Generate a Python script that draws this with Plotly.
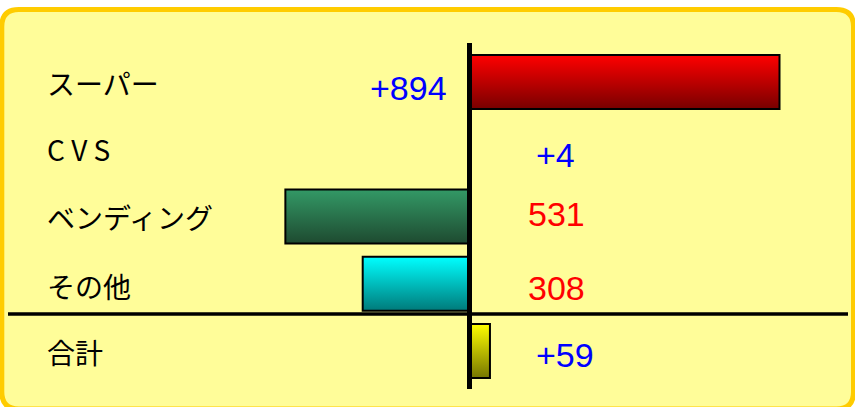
import plotly.graph_objects as go

# ---- data ----
categories = ["スーパー", "C V S", "ベンディング", "その他", "合計"]
values = [894, 4, -531, -308, 59]
unit_label = "（単位：百万円）"

# ---- styles ----
top_colors = ["#FF0000", "#0000FF", "#339966", "#00FFFF", "#FFFF00"]
bottom_colors = ["#780000", "#000078", "#1E4A30", "#007A7A", "#767600"]
label_px = [408, 555, 556, 556, 565]          # horizontal centre of value labels (px)
label_dy = [0.09, 0.09, -0.03, 0.07, 0.06]     # vertical nudge of value labels (rows)
cat_dy = [0.02, 0.0, 0.0, 0.03, 0.01]

W, H = 855, 407
k = 310 / 894            # px per unit
x0_px = 469.5
row0_px, row_px = 82, 67.25
xr = [-x0_px / k, (W - x0_px) / k]
yr = [(H - row0_px) / row_px, -row0_px / row_px]

def px(x):
    return x / W

def py(y):
    return 1 - y / H

def yrow(p):
    return (p - row0_px) / row_px

fig = go.Figure()
half = 0.40
for i, (c, v) in enumerate(zip(categories, values)):
    fig.add_trace(go.Scatter(
        x=[0, v, v, 0, 0],
        y=[i - half, i - half, i + half, i + half, i - half],
        mode="lines", fill="toself",
        line=dict(color="black", width=2),
        fillgradient=dict(type="vertical", start=i - half, stop=i + half,
                          colorscale=[[0, top_colors[i]], [1, bottom_colors[i]]]),
        hoverinfo="skip", showlegend=False,
    ))

annotations = []
for i, (c, v) in enumerate(zip(categories, values)):
    annotations.append(dict(
        text=c, xref="paper", yref="y", x=px(45), y=i + cat_dy[i],
        xanchor="left", yanchor="middle", showarrow=False,
        font=dict(family="Noto Sans CJK JP", size=28, color="black"),
    ))
    txt = f"+{v}" if v > 0 else f"{abs(v)}"
    annotations.append(dict(
        text=txt, xref="paper", yref="y", x=px(label_px[i]), y=i + label_dy[i],
        xanchor="center", yanchor="middle", showarrow=False,
        font=dict(family="Liberation Sans, Arial", size=34,
                  color="#0000FF" if v > 0 else "#FF0000"),
    ))
annotations.append(dict(
    text=unit_label, xref="paper", yref="paper", x=px(768), y=1,
    xanchor="center", yanchor="bottom", yshift=-5, showarrow=False,
    font=dict(family="Noto Sans CJK JP", size=18, color="#444444"),
))

# rounded panel
L, T, R, B, rad = 1.8, 9.5, 853.5, 409, 17
path = (f"M {px(L+rad)},{py(T)} L {px(R-rad)},{py(T)} Q {px(R)},{py(T)} {px(R)},{py(T+rad)} "
        f"L {px(R)},{py(B-rad)} Q {px(R)},{py(B)} {px(R-rad)},{py(B)} "
        f"L {px(L+rad)},{py(B)} Q {px(L)},{py(B)} {px(L)},{py(B-rad)} "
        f"L {px(L)},{py(T+rad)} Q {px(L)},{py(T)} {px(L+rad)},{py(T)} Z")

shapes = [
    dict(type="path", xref="paper", yref="paper", path=path,
         fillcolor="#FFFD99", line=dict(color="#FFCC00", width=5), layer="below"),
    dict(type="line", xref="paper", yref="y", x0=px(8), x1=px(848),
         y0=yrow(314), y1=yrow(314), line=dict(color="black", width=3.5), layer="above"),
    dict(type="line", xref="x", yref="y", x0=0, x1=0,
         y0=yrow(43), y1=yrow(389), line=dict(color="black", width=5), layer="above"),
]

fig.update_layout(
    width=W, height=H,
    margin=dict(l=0, r=0, t=0, b=0),
    paper_bgcolor="white", plot_bgcolor="rgba(0,0,0,0)",
    xaxis=dict(range=xr, visible=False, fixedrange=True),
    yaxis=dict(range=yr, visible=False, fixedrange=True),
    annotations=annotations, shapes=shapes,
    showlegend=False,
)

fig.write_html("out.html")
